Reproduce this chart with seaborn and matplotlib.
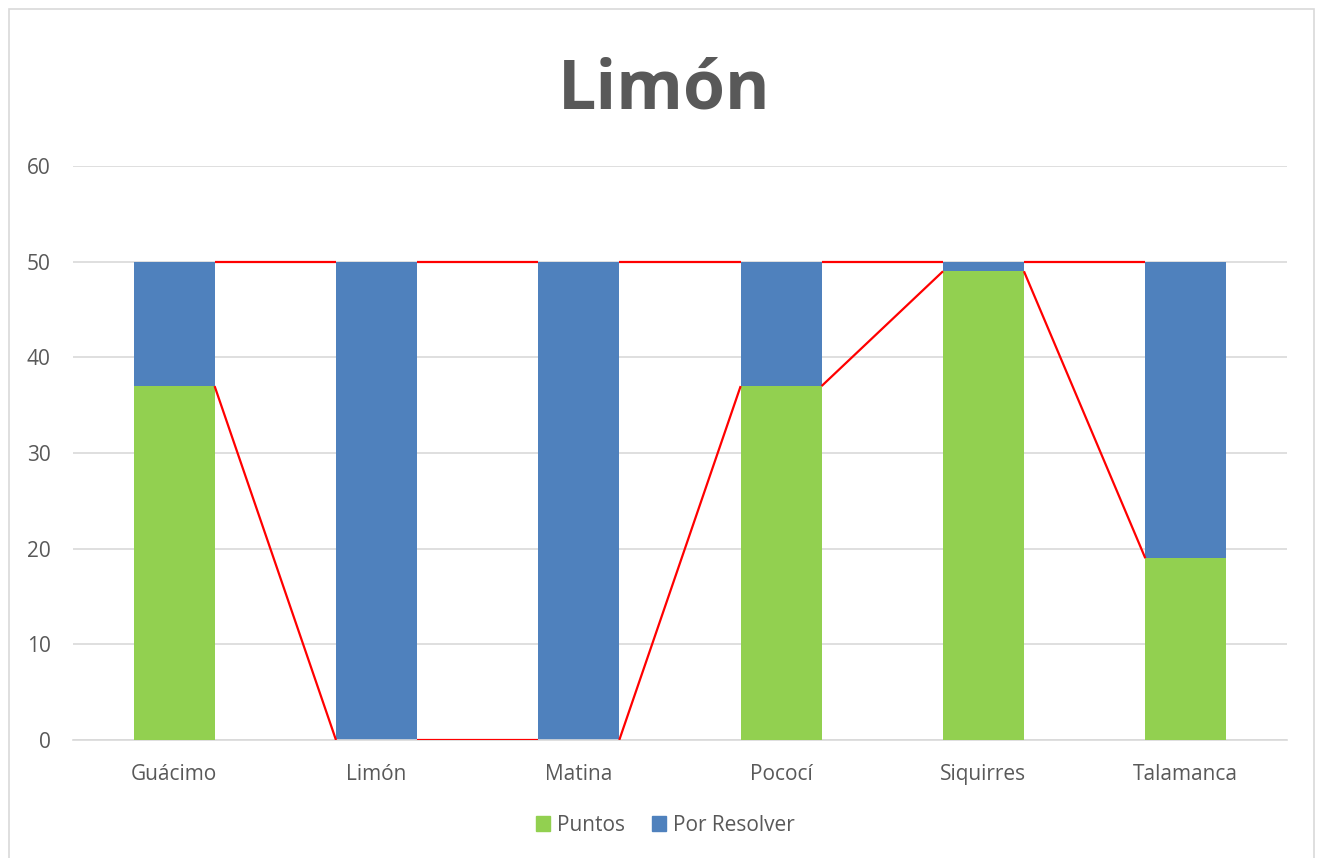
import numpy as np
import pandas as pd
import seaborn as sns
import matplotlib.pyplot as plt
from matplotlib.patches import Rectangle, Patch

cantones = ['Guácimo', 'Limón', 'Matina', 'Pococí', 'Siquirres', 'Talamanca']
puntos = [37, 0, 0, 37, 49, 19]
por_resolver = [13, 50, 50, 13, 1, 31]

green = '#92d050'
blue = '#4f81bd'
grey_txt = '#595959'
grid_col = '#d9d9d9'
bar_w = 0.4

sns.set_theme(style='white')
plt.rcParams['font.family'] = ['Open Sans', 'DejaVu Sans']

df = pd.DataFrame({'canton': cantones, 'puntos': puntos, 'por_resolver': por_resolver})
df['total'] = df['puntos'] + df['por_resolver']

fig = plt.figure(figsize=(13.17, 8.58), dpi=100)
ax = fig.add_axes([0.0554, 0.1375, 0.9218, 0.669])

sns.barplot(data=df, x='canton', y='total', color=blue, width=bar_w, saturation=1,
            linewidth=0, ax=ax, zorder=2)
sns.barplot(data=df, x='canton', y='puntos', color=green, width=bar_w, saturation=1,
            linewidth=0, ax=ax, zorder=3)

# series lines between stacked segments
idx = np.arange(len(cantones))
for top in [df['puntos'].values, df['total'].values]:
    for i in idx[:-1]:
        ax.plot([i + bar_w / 2, i + 1 - bar_w / 2], [top[i], top[i + 1]],
                color='#ff0000', lw=1.6, zorder=4, solid_capstyle='butt')

ax.set_xlim(-0.5, len(cantones) - 0.5)
ax.set_ylim(0, 60)
ax.set_yticks(range(0, 61, 10))
ax.yaxis.grid(True, color=grid_col, lw=1.2, zorder=0)
ax.set_axisbelow(True)
for s in ['top', 'right', 'left']:
    ax.spines[s].set_visible(False)
ax.spines['bottom'].set_color(grid_col)
ax.spines['bottom'].set_linewidth(1.2)
ax.set_xlabel('')
ax.set_ylabel('')
ax.tick_params(axis='both', length=0, labelsize=15, labelcolor=grey_txt)
ax.tick_params(axis='x', pad=17)
ax.tick_params(axis='y', pad=16)

fig.text(0.504, 0.895, 'Limón', ha='center', va='center', fontsize=49,
         fontweight='bold', color=grey_txt)

handles = [Patch(color=green, label='Puntos'), Patch(color=blue, label='Por Resolver')]
fig.legend(handles=handles, loc='center', bbox_to_anchor=(0.505, 0.038), ncol=2,
           frameon=False, fontsize=15, labelcolor=grey_txt, handlelength=0.7,
           handleheight=0.7, handletextpad=0.3, columnspacing=1.3)

fig.patches.append(Rectangle((9 / 1317, -0.01), 1305 / 1317, 1 - 9 / 858 + 0.01,
                             transform=fig.transFigure, fill=False,
                             edgecolor=grid_col, lw=1.2))

fig.savefig('out.png', dpi=100)
